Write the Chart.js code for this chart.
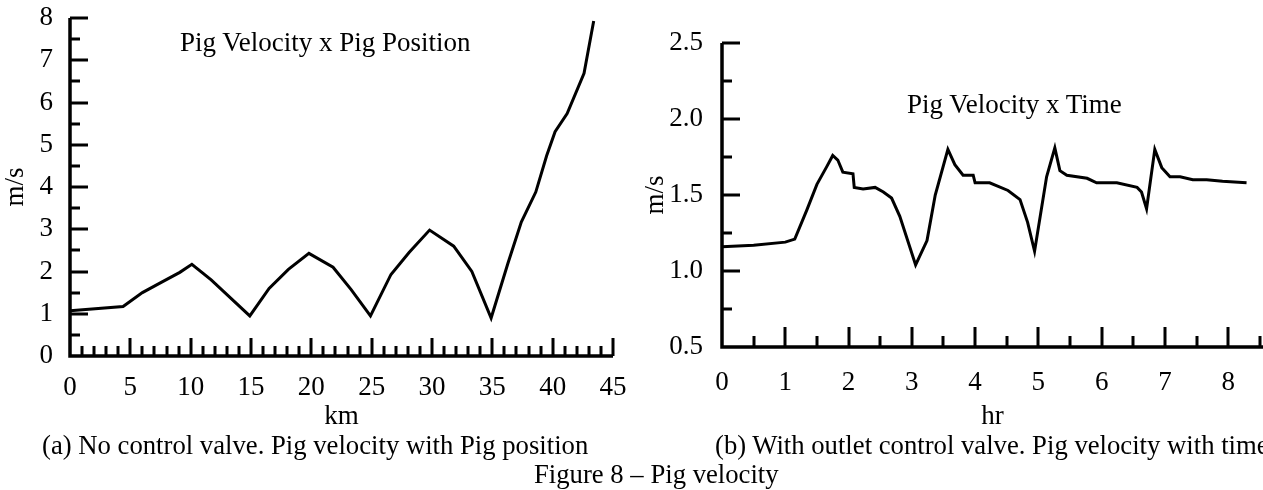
<!DOCTYPE html>
<html>
<head>
<meta charset="utf-8">
<script src="https://cdn.jsdelivr.net/npm/chart.js@4.4.1/dist/chart.umd.min.js"></script>
<style>
    html, body { margin: 0; padding: 0; background: #fff; overflow: hidden; }
    body { width: 1263px; height: 490px; position: relative; font-family: "Liberation Serif", "Times New Roman", serif; font-size: 27px; color: #000; }
    canvas { position: absolute; top: 0; }
    .txt { position: absolute; white-space: nowrap; line-height: 30px; }
    .cap { font-size: 26.7px; }
</style>
</head>
<body>
<canvas id="chartA" width="640" height="440" style="left:0;width:640px;height:440px"></canvas>
<canvas id="chartB" width="623" height="440" style="left:640px;width:623px;height:440px"></canvas>

<div class="txt" style="left:180px;top:27px">Pig Velocity x Pig Position</div>
<div class="txt" style="left:907px;top:89px">Pig Velocity x Time</div>
<div class="txt cap" style="left:42px;top:430px">(a) No control valve. Pig velocity with Pig position</div>
<div class="txt cap" style="left:715px;top:430px">(b) With outlet control valve. Pig velocity with time</div>
<div class="txt cap" style="left:534px;top:459px">Figure 8 – Pig velocity</div>

<script>
// (a) velocity vs position
const positionKm = [0, 4.4, 6.0, 7.6, 9.1, 10.1, 11.7, 14.9, 16.5, 18.1, 19.8, 21.8, 23.3, 24.9, 26.6, 28.1, 29.8, 31.8, 33.3, 34.9, 36.3, 37.4, 38.6, 39.5, 40.2, 41.2, 42.6, 43.4];
const velocityA  = [1.07, 1.17, 1.50, 1.75, 1.98, 2.17, 1.80, 0.95, 1.60, 2.05, 2.43, 2.10, 1.57, 0.95, 1.93, 2.45, 2.98, 2.60, 2.00, 0.90, 2.20, 3.17, 3.88, 4.74, 5.31, 5.74, 6.69, 7.93];
const kmTicks = [0, 5, 10, 15, 20, 25, 30, 35, 40, 45];
const msTicksA = [0, 1, 2, 3, 4, 5, 6, 7, 8];

// (b) velocity vs time
const timeHr    = [0, 0.5, 1.0, 1.15, 1.34, 1.5, 1.66, 1.75, 1.83, 1.91, 2.07, 2.09, 2.23, 2.42, 2.55, 2.68, 2.81, 3.06, 3.24, 3.37, 3.57, 3.68, 3.81, 3.97, 4.0, 4.23, 4.52, 4.71, 4.83, 4.94, 5.13, 5.26, 5.34, 5.45, 5.77, 5.92, 6.24, 6.56, 6.63, 6.71, 6.84, 6.95, 7.08, 7.24, 7.44, 7.66, 7.91, 8.29];
const velocityB = [1.16, 1.17, 1.19, 1.21, 1.40, 1.57, 1.69, 1.76, 1.73, 1.65, 1.64, 1.55, 1.54, 1.55, 1.52, 1.48, 1.36, 1.04, 1.20, 1.50, 1.80, 1.70, 1.63, 1.63, 1.58, 1.58, 1.53, 1.47, 1.32, 1.13, 1.62, 1.81, 1.66, 1.63, 1.61, 1.58, 1.58, 1.55, 1.52, 1.41, 1.80, 1.68, 1.62, 1.62, 1.60, 1.60, 1.59, 1.58];
const hrTicks = [0, 1, 2, 3, 4, 5, 6, 7, 8];
const msTicksB = [0.5, 1.0, 1.5, 2.0, 2.5];

const SERIF = '"Liberation Serif", "Times New Roman", serif';
const font27 = { family: SERIF, size: 27 };

// axis lines + inward tick marks, drawn from the chart's own scales
const innerAxes = {
    id: 'innerAxes',
    afterDraw(chart, args, o) {
        const { ctx, chartArea: a, scales: { x, y } } = chart;
        ctx.save();
        ctx.strokeStyle = '#000';
        ctx.lineWidth = 3;
        ctx.beginPath();
        for (let v = o.xStep; v <= x.max + 1e-9; v += o.xStep) {
            const major = Math.abs(v / o.xMajor - Math.round(v / o.xMajor)) < 1e-6;
            const px = Math.round(x.getPixelForValue(v));
            ctx.moveTo(px, a.bottom);
            ctx.lineTo(px, a.bottom - (major ? o.xMajorLen : o.xMinorLen));
        }
        for (let v = y.min + o.yStep; v <= y.max + 1e-9; v += o.yStep) {
            const major = Math.abs((v - y.min) / o.yMajor - Math.round((v - y.min) / o.yMajor)) < 1e-6;
            const py = Math.round(y.getPixelForValue(v));
            ctx.moveTo(a.left, py);
            ctx.lineTo(a.left + (major ? o.yMajorLen : o.yMinorLen), py);
        }
        ctx.stroke();
        ctx.lineWidth = 3.5;
        ctx.beginPath();
        ctx.moveTo(a.left, a.top);
        ctx.lineTo(a.left, a.bottom);
        ctx.lineTo(a.right, a.bottom);
        ctx.stroke();
        ctx.restore();
    }
};

function makeChart(id, xs, ys, cfg) {
    return new Chart(document.getElementById(id), {
        type: 'line',
        data: {
            datasets: [{
                data: xs.map((v, i) => ({ x: v, y: ys[i] })),
                borderColor: '#000',
                borderWidth: 3,
                pointRadius: 0,
                tension: 0,
                fill: false
            }]
        },
        options: {
            responsive: false,
            animation: false,
            devicePixelRatio: 1,
            layout: { padding: cfg.padding },
            plugins: {
                legend: { display: false },
                tooltip: { enabled: false },
                innerAxes: cfg.marks
            },
            scales: {
                x: {
                    type: 'linear',
                    min: cfg.xMin, max: cfg.xMax,
                    afterBuildTicks: s => { s.ticks = cfg.xTicks.map(v => ({ value: v })); },
                    afterFit: s => { s.height = cfg.xHeight; s.paddingLeft = 0; s.paddingRight = 0; },
                    grid: { display: false, drawTicks: false },
                    border: { display: false },
                    ticks: { padding: cfg.xPad, color: '#000', font: font27, maxRotation: 0, autoSkip: false },
                    title: { display: true, text: cfg.xTitle, color: '#000', font: font27, padding: { top: 0, bottom: 7 } }
                },
                y: {
                    min: cfg.yMin, max: cfg.yMax,
                    afterBuildTicks: s => { s.ticks = cfg.yTicks.map(v => ({ value: v })); },
                    afterFit: s => { s.width = cfg.yWidth; s.paddingTop = 0; s.paddingBottom = 0; },
                    grid: { display: false, drawTicks: false },
                    border: { display: false },
                    ticks: { padding: cfg.yPad, color: '#000', font: font27, callback: cfg.yFmt },
                    title: { display: true, text: 'm/s', color: '#000', font: font27, padding: { top: 0, bottom: 0 } }
                }
            }
        },
        plugins: [innerAxes]
    });
}

makeChart('chartA', positionKm, velocityA, {
    padding: { top: 18, right: 27, left: 0, bottom: 0 },
    xMin: 0, xMax: 45, xTicks: kmTicks, xHeight: 84, xPad: 16, xTitle: 'km',
    yMin: 0, yMax: 8, yTicks: msTicksA, yWidth: 70, yPad: 17, yFmt: v => String(v),
    marks: { xStep: 1, xMajor: 5, xMajorLen: 18, xMinorLen: 10, yStep: 0.5, yMajor: 1, yMajorLen: 18, yMinorLen: 10 }
});

makeChart('chartB', timeHr, velocityB, {
    padding: { top: 43, right: 0, left: 0, bottom: 0 },
    xMin: 0, xMax: 8.55, xTicks: hrTicks, xHeight: 93, xPad: 20, xTitle: 'hr',
    yMin: 0.5, yMax: 2.5, yTicks: msTicksB, yWidth: 82, yPad: 19, yFmt: v => Number(v).toFixed(1),
    marks: { xStep: 0.5, xMajor: 1, xMajorLen: 20, xMinorLen: 11, yStep: 0.25, yMajor: 0.5, yMajorLen: 18, yMinorLen: 10 }
});
</script>
</body>
</html>
